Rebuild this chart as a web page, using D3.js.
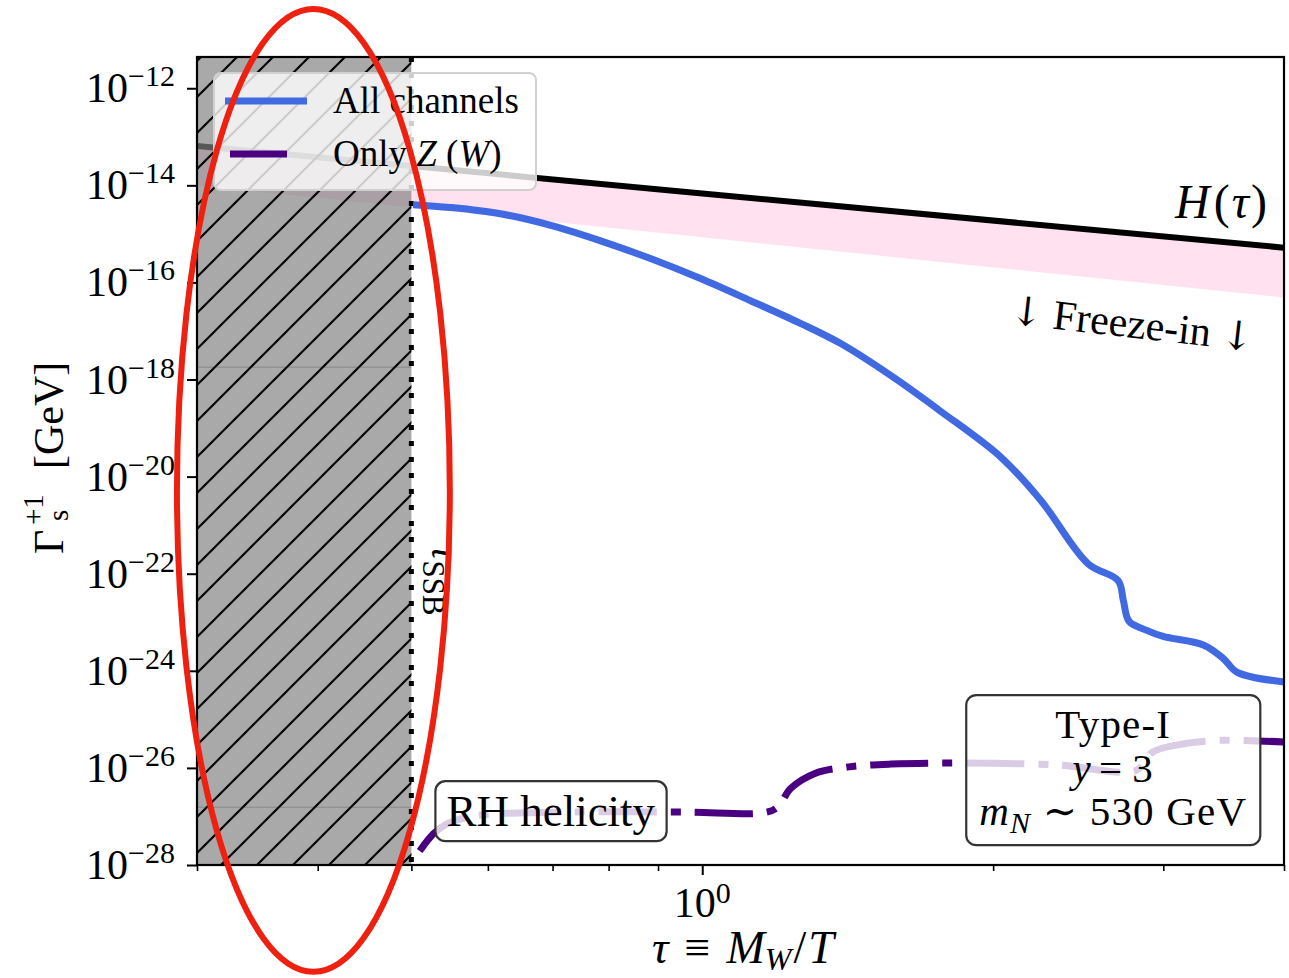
<!DOCTYPE html>
<html>
<head>
<meta charset="utf-8">
<script src="https://cdn.jsdelivr.net/npm/d3@7"></script>
<style>
body { margin: 0; background: #fff; }
svg { display: block; }
text { font-family: "Liberation Serif", "DejaVu Serif", serif; fill: #000; }
</style>
</head>
<body>
<div id="chart"></div>
<script>
// All channels (blue)
const tauAll = [0.502, 0.5485, 0.618, 0.697, 0.785, 0.884, 0.996, 1.122, 1.265, 1.391, 1.568, 1.766,
    2.038, 2.242, 2.508, 2.694, 2.728, 2.765, 2.88, 2.999, 3.30, 3.461, 3.579, 4.0];
const gammaAll = [4.0e-15, 3.5e-15, 2.6e-15, 1.5e-15, 7.2e-16, 3.1e-16, 1.2e-16, 4.2e-17, 1.42e-17, 5.5e-18, 1.2e-18, 2.2e-19,
    2.5e-20, 3.2e-21, 1.6e-22, 7.2e-23, 2.8e-23, 1.05e-23, 6.9e-24, 5.1e-24, 3.4e-24, 1.8e-24, 9.3e-25, 5.9e-25];

// Only Z (W) (indigo, dash-dot)
const tauZ = [0.51, 0.527, 0.543, 0.574, 0.605, 0.71, 0.957, 1.16, 1.197, 1.235, 1.31, 1.418, 1.568, 1.835,
    2.33, 2.813, 2.923, 3.094, 3.43, 4.0];
const gammaZ = [1.95e-28, 4.4e-28, 6.9e-28, 9.8e-28, 1.12e-27, 1.23e-27, 1.23e-27, 1.2e-27, 1.55e-27, 3.8e-27, 7.8e-27, 1.05e-26, 1.2e-26, 1.26e-26,
    1.15e-26, 8.9e-27, 2.1e-26, 2.95e-26, 3.7e-26, 3.4e-26];

// Hubble rate H(tau)
const tauH = [0.3, 1.0, 4.0];
const gammaH = [6.5e-14, 6.8e-15, 5.2e-16];

// freeze-in band
const tauBand = [0.3, 1.0, 4.0];
const bandHi = [6.3e-14, 6.6e-15, 5.0e-16];
const bandLo = [1.0e-14, 8.5e-16, 4.9e-17];

// excluded region tau < tau_SSB
const tauLow = 0.3;
const tauSSB = 0.5;
const faintLevels = [1.8e-18, 1.55e-27];

// ticks
const xMajor = [1];
const xMajorLabels = ["0"];
const xMinor = [0.3, 0.4, 0.5, 0.6, 0.7, 0.8, 0.9, 2, 3, 4];
const yTicks = [1e-12, 1e-14, 1e-16, 1e-18, 1e-20, 1e-22, 1e-24, 1e-26, 1e-28];
const yTickLabels = ["\u221212", "\u221214", "\u221216", "\u221218", "\u221220", "\u221222", "\u221224", "\u221226", "\u221228"];

const W = 1289, H = 978;
const margin = {top: 57, right: 5, bottom: 113, left: 197},
    width = W - margin.left - margin.right,
    height = H - margin.top - margin.bottom;

const svg = d3.select("#chart")
    .append("svg")
    .attr("width", W)
    .attr("height", H);

const defs = svg.append("defs");
const hatch = defs.append("pattern")
    .attr("id", "hatch")
    .attr("patternUnits", "userSpaceOnUse")
    .attr("x", 4)
    .attr("width", 36)
    .attr("height", 36);
hatch.append("path")
    .attr("d", "M0,36L36,0M-9,9L9,-9M27,45L45,27")
    .attr("stroke", "#000")
    .attr("stroke-width", 2.2);
defs.append("clipPath").attr("id", "plotclip")
    .append("rect").attr("width", width).attr("height", height);

const g = svg.append("g")
    .attr("transform", "translate(" + margin.left + "," + margin.top + ")");
const plot = g.append("g").attr("clip-path", "url(#plotclip)");

const x = d3.scaleLog().domain([0.3, 4]).range([0, width]);
const y = d3.scaleLog().domain([1e-28, 4.4e-12]).range([height, 0]);

const line = d3.line()
    .x(d => x(d[0]))
    .y(d => y(d[1]))
    .curve(d3.curveCatmullRom.alpha(0.5));

// Freeze-in band
plot.append("path")
    .datum(d3.zip(tauBand, bandHi, bandLo))
    .attr("d", d3.area().x(d => x(d[0])).y0(d => y(d[2])).y1(d => y(d[1])))
    .attr("fill", "#ffe1f0");

// H(tau)
plot.append("path")
    .datum(d3.zip(tauH, gammaH))
    .attr("d", d3.line().x(d => x(d[0])).y(d => y(d[1])))
    .attr("fill", "none")
    .attr("stroke", "#000")
    .attr("stroke-width", 6);

// excluded region
plot.append("rect")
    .attr("x", x(tauLow)).attr("y", 0)
    .attr("width", x(tauSSB) - x(tauLow)).attr("height", height)
    .attr("fill", "#808080").attr("fill-opacity", 0.68);
plot.append("rect")
    .attr("x", x(tauLow)).attr("y", 0)
    .attr("width", x(tauSSB) - x(tauLow)).attr("height", height)
    .attr("fill", "url(#hatch)");
plot.selectAll("line.faint")
    .data(faintLevels)
    .join("line")
    .attr("class", "faint")
    .attr("x1", x(tauLow)).attr("x2", x(tauSSB))
    .attr("y1", d => y(d)).attr("y2", d => y(d))
    .attr("stroke", "#000").attr("stroke-opacity", 0.2).attr("stroke-width", 1);

// tau_SSB dotted line
plot.append("line")
    .attr("x1", x(tauSSB)).attr("x2", x(tauSSB))
    .attr("y1", 0).attr("y2", height)
    .attr("stroke", "#000")
    .attr("stroke-width", 5)
    .attr("stroke-dasharray", "5 11");

// curves
plot.append("path")
    .datum(d3.zip(tauAll, gammaAll))
    .attr("d", line)
    .attr("fill", "none")
    .attr("stroke", "#4169e1")
    .attr("stroke-width", 7)
    .attr("stroke-linejoin", "round");

plot.append("path")
    .datum(d3.zip(tauZ, gammaZ))
    .attr("d", line)
    .attr("fill", "none")
    .attr("stroke", "#4b0082")
    .attr("stroke-width", 7)
    .attr("stroke-dasharray", "58 14 10 14");

// text annotations
const ann = g.append("g");

const hLab = ann.append("text")
    .attr("x", x(3.84)).attr("y", y(2.15e-15))
    .attr("text-anchor", "end")
    .style("font-size", "48px");
hLab.append("tspan").style("font-style", "italic").text("H");
hLab.append("tspan").attr("dx", 4).text("(");
hLab.append("tspan").attr("dx", 2).style("font-style", "italic").text("\u03c4");
hLab.append("tspan").attr("dx", 2).text(")");

const fz = ann.append("text")
    .attr("transform", "translate(" + x(2.786) + "," + y(1.42e-17) + ") rotate(6.5)")
    .attr("text-anchor", "middle")
    .attr("dominant-baseline", "central")
    .style("font-size", "42px");
fz.append("tspan").style("font-family", "DejaVu Serif").style("font-size", "40px").text("\u2193");
fz.append("tspan").attr("dx", 10).text("Freeze-in");
fz.append("tspan").attr("dx", 10).style("font-family", "DejaVu Serif").style("font-size", "40px").text("\u2193");

const ssb = ann.append("text")
    .attr("transform", "translate(" + x(0.5255) + "," + y(3.84e-22) + ") rotate(90)")
    .style("font-size", "42px");
ssb.append("tspan").style("font-style", "italic").text("\u03c4");
ssb.append("tspan").attr("dy", 9).style("font-size", "31px").text("SSB");

function boxed(sel, pad) {
    const bb = sel.node().getBBox();
    sel.node().parentNode.insertBefore(
        d3.create("svg:rect")
            .attr("x", bb.x - pad[0]).attr("y", bb.y - pad[1])
            .attr("width", bb.width + 2 * pad[0]).attr("height", bb.height + 2 * pad[1])
            .attr("rx", 10)
            .attr("fill", "#fff").attr("fill-opacity", 0.8)
            .attr("stroke", "#333").attr("stroke-width", 2.2)
            .node(),
        sel.node());
}

const rh = ann.append("g");
rh.append("text")
    .attr("x", x(0.697)).attr("y", y(6.3e-28))
    .attr("text-anchor", "middle")
    .style("font-size", "45px")
    .text("RH helicity");
boxed(rh, [11, 5]);

const t1 = ann.append("g").style("letter-spacing", "1.2px");
const t1x = x(2.663), t1y = y(4.1e-26);
t1.append("text").attr("x", t1x).attr("y", t1y)
    .attr("text-anchor", "middle").style("font-size", "41px").text("Type-I");
const l2 = t1.append("text").attr("x", t1x).attr("y", t1y + 44)
    .attr("text-anchor", "middle").style("font-size", "41px");
l2.append("tspan").style("font-style", "italic").text("y");
l2.append("tspan").attr("dx", 7).text("=");
l2.append("tspan").attr("dx", 9).text("3");
const l3 = t1.append("text").attr("x", t1x).attr("y", t1y + 87)
    .attr("text-anchor", "middle").style("font-size", "41px");
l3.append("tspan").style("font-style", "italic").text("m");
l3.append("tspan").attr("dy", 8).style("font-size", "30px").style("font-style", "italic").text("N");
l3.append("tspan").attr("dy", -8).text(" \u223c 530 GeV");
boxed(t1, [13, 6]);

// legend
const leg = g.append("g").attr("transform", "translate(17,16)");
leg.append("rect")
    .attr("width", 322).attr("height", 117).attr("rx", 7)
    .attr("fill", "#fff").attr("fill-opacity", 0.8)
    .attr("stroke", "#d0d0d0").attr("stroke-width", 2);
leg.append("line")
    .attr("x1", 11).attr("x2", 93).attr("y1", 28).attr("y2", 28)
    .attr("stroke", "#4169e1").attr("stroke-width", 7);
leg.append("line")
    .attr("x1", 16).attr("x2", 73).attr("y1", 81).attr("y2", 81)
    .attr("stroke", "#4b0082").attr("stroke-width", 7);
leg.append("text").attr("x", 119).attr("y", 40).style("font-size", "37px").text("All channels");
const lz = leg.append("text").attr("x", 119).attr("y", 93).style("font-size", "37px");
lz.append("tspan").text("Only ");
lz.append("tspan").style("font-style", "italic").text("Z");
lz.append("tspan").text(" (");
lz.append("tspan").style("font-style", "italic").text("W");
lz.append("tspan").text(")");

// axes
g.append("g")
    .attr("transform", "translate(0," + height + ")")
    .call(d3.axisBottom(x).tickValues(xMinor).tickSize(6).tickFormat(""))
    .call(a => a.select(".domain").remove())
    .selectAll("line").attr("stroke-width", 1.6);
g.append("g")
    .attr("transform", "translate(0," + height + ")")
    .call(d3.axisBottom(x).tickValues(xMajor).tickSize(10).tickFormat(""))
    .call(a => a.select(".domain").remove())
    .selectAll("line").attr("stroke-width", 2);
g.append("g")
    .call(d3.axisLeft(y).tickValues(yTicks).tickSize(10).tickFormat(""))
    .call(a => a.select(".domain").remove())
    .selectAll("line").attr("stroke-width", 2);

g.append("rect")
    .attr("width", width).attr("height", height)
    .attr("fill", "none").attr("stroke", "#000").attr("stroke-width", 2.2);

g.selectAll("text.ylab")
    .data(yTicks)
    .join("text")
    .attr("class", "ylab")
    .attr("x", -22)
    .attr("y", d => y(d) + 14)
    .attr("text-anchor", "end")
    .style("font-size", "42px")
    .each(function (d, i) {
        const t = d3.select(this);
        t.append("tspan").text("10");
        t.append("tspan").attr("dy", -16).style("font-size", "30px").text(yTickLabels[i]);
    });

g.selectAll("text.xlab")
    .data(xMajor)
    .join("text")
    .attr("class", "xlab")
    .attr("x", d => x(d))
    .attr("y", height + 52)
    .attr("text-anchor", "middle")
    .style("font-size", "42px")
    .each(function (d, i) {
        const t = d3.select(this);
        t.append("tspan").text("10");
        t.append("tspan").attr("dy", -14).style("font-size", "30px").text(xMajorLabels[i]);
    });

// axis titles
const xt = svg.append("text")
    .attr("x", 743).attr("y", 963)
    .attr("text-anchor", "middle")
    .style("font-size", "46px");
xt.append("tspan").style("font-style", "italic").text("\u03c4");
xt.append("tspan").attr("dx", 16).text("\u2261");
xt.append("tspan").attr("dx", 16).style("font-style", "italic").text("M");
xt.append("tspan").attr("dy", 7).style("font-size", "32px").style("font-style", "italic").text("W");
xt.append("tspan").attr("dy", -7).attr("dx", 2).text("/");
xt.append("tspan").attr("dx", 2).style("font-style", "italic").text("T");

const yt = svg.append("g").attr("transform", "translate(63,463) rotate(-90)");
yt.append("text").attr("x", -91).attr("y", 0).style("font-size", "42px").text("\u0393");
yt.append("text").attr("x", -62).attr("y", -20).style("font-size", "29px").text("+1");
yt.append("text").attr("x", -58).attr("y", 5).style("font-size", "29px").text("s");
yt.append("text").attr("x", -6).attr("y", 0).style("font-size", "42px").text("[GeV]");

// highlight ellipse
const ex0 = x(0.286), ex1 = x(0.548), ey0 = y(4.3e-11), ey1 = y(6.3e-31);
g.append("ellipse")
    .attr("cx", (ex0 + ex1) / 2).attr("cy", (ey0 + ey1) / 2)
    .attr("rx", (ex1 - ex0) / 2).attr("ry", (ey1 - ey0) / 2)
    .attr("fill", "none")
    .attr("stroke", "#ee2010")
    .attr("stroke-width", 6);
</script>
</body>
</html>
